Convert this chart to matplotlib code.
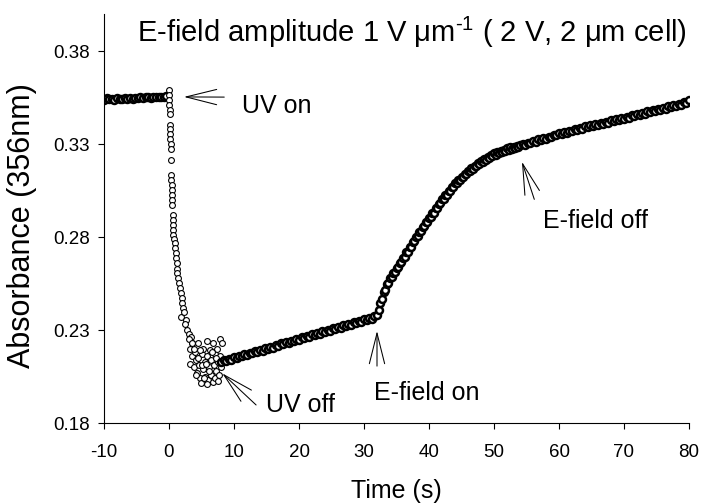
import numpy as np
import matplotlib
matplotlib.use("Agg")
import matplotlib.pyplot as plt

plt.rcParams['font.family'] = ['Liberation Sans', 'DejaVu Sans']
plt.rcParams['mathtext.fontset'] = 'custom'
plt.rcParams['mathtext.rm'] = 'Liberation Sans'
plt.rcParams['mathtext.it'] = 'Liberation Sans:italic'
plt.rcParams['axes.unicode_minus'] = False

# absorbance before UV, t = -10 .. -0.4 s
abs_pre = [0.3540, 0.3546, 0.3542, 0.3545, 0.3539, 0.3547, 0.3544, 0.3541, 0.3548, 0.3545,
           0.3549, 0.3543, 0.3550, 0.3546, 0.3552, 0.3548, 0.3551, 0.3555, 0.3549, 0.3553,
           0.3556, 0.3551, 0.3555, 0.3553, 0.3557]

# UV on: fast drop and scattered minimum (read point by point)
t_drop = [0.0, 0.0, 0.05, 0.05, 0.1, 0.1, 0.15, 0.15, 0.2, 0.2, 0.25, 0.25, 0.3,
          0.35, 0.35, 0.4, 0.4, 0.45, 0.45, 0.5, 0.55, 0.55, 0.6, 0.6, 0.65,
          0.75, 0.85, 0.9, 1.0, 1.05, 1.2, 1.2, 1.3, 1.45, 1.6, 1.7, 1.85, 2.0, 2.0,
          2.2, 1.9, 2.3, 2.6, 2.5, 2.8, 3.0, 3.4, 3.5,
          3.0, 3.3, 3.6, 3.2, 3.8, 4.0, 4.2, 4.3, 4.5, 4.6, 4.8, 4.9, 5.0, 5.2, 5.3,
          5.5, 5.6, 5.8, 5.9, 6.0, 6.1, 6.3, 6.4, 6.5, 6.7, 6.8, 6.9, 7.0, 7.1, 7.3,
          7.4, 7.5, 7.6, 7.7, 7.8, 7.9, 8.0, 8.1,
          3.6, 4.1, 4.4, 5.1, 5.4, 5.7, 6.2, 6.6, 7.2, 3.9, 4.7, 5.9]
abs_drop = [0.3590, 0.3563, 0.3537, 0.3510, 0.3483, 0.3462, 0.3402, 0.3380, 0.3355, 0.3330,
            0.3300, 0.3272, 0.3214, 0.3133, 0.3108, 0.3082, 0.3055, 0.3028, 0.3000, 0.2975,
            0.2920, 0.2893, 0.2866, 0.2840, 0.2812,
            0.2790, 0.2768, 0.2740, 0.2714, 0.2690, 0.2660, 0.2630, 0.2606, 0.2580, 0.2553,
            0.2525, 0.2499, 0.2470, 0.2445, 0.2420, 0.2370, 0.2395, 0.2354, 0.2330, 0.2300,
            0.2280, 0.2262, 0.2230,
            0.2250, 0.2200, 0.2160, 0.2120, 0.2100, 0.2180, 0.2140, 0.2070, 0.2230, 0.2110,
            0.2040, 0.2015, 0.2170, 0.2090, 0.2200, 0.2130, 0.2050, 0.2240, 0.2160, 0.2030,
            0.2100, 0.2190, 0.2060, 0.2140, 0.2020, 0.2230, 0.2110, 0.2170, 0.2040, 0.2080,
            0.2200, 0.2130, 0.2025, 0.2060, 0.2250, 0.2160, 0.2100, 0.2230,
            0.2230, 0.2060, 0.2150, 0.2110, 0.2040, 0.2120, 0.2080, 0.2180, 0.2150, 0.2200,
            0.2190, 0.2010]

# slow recovery, t = 8 .. 31.6 s
abs_slow = [0.2128, 0.2137, 0.2133, 0.2145, 0.2141, 0.2153, 0.2149, 0.2160, 0.2158, 0.2171,
            0.2166, 0.2178, 0.2174, 0.2186, 0.2181, 0.2194, 0.2189, 0.2203, 0.2198, 0.2211,
            0.2206, 0.2220, 0.2215, 0.2228, 0.2223, 0.2236, 0.2231, 0.2243, 0.2239, 0.2252,
            0.2247, 0.2261, 0.2255, 0.2268, 0.2264, 0.2277, 0.2271, 0.2285, 0.2280, 0.2293,
            0.2287, 0.2301, 0.2296, 0.2310, 0.2304, 0.2318, 0.2312, 0.2325, 0.2320, 0.2334,
            0.2329, 0.2342, 0.2336, 0.2350, 0.2345, 0.2358, 0.2353, 0.2366, 0.2362, 0.2374]

# E-field on, t = 32 .. 54 s
abs_field = [0.2383, 0.2406, 0.2445, 0.2466, 0.2504, 0.2516, 0.2545, 0.2553, 0.2580, 0.2585,
             0.2608, 0.2611, 0.2635, 0.2639, 0.2663, 0.2667, 0.2690, 0.2694, 0.2718, 0.2721,
             0.2745, 0.2749, 0.2773, 0.2777, 0.2800, 0.2804, 0.2828, 0.2831, 0.2855, 0.2857,
             0.2880, 0.2882, 0.2905, 0.2907, 0.2930, 0.2932, 0.2955, 0.2957, 0.2980, 0.2982,
             0.3005, 0.3006, 0.3028, 0.3029, 0.3050, 0.3050, 0.3070, 0.3070, 0.3090, 0.3089,
             0.3108, 0.3106, 0.3125, 0.3123, 0.3140, 0.3138, 0.3155, 0.3153, 0.3170, 0.3168,
             0.3185, 0.3181, 0.3198, 0.3194, 0.3210, 0.3206, 0.3222, 0.3217, 0.3233, 0.3227,
             0.3242, 0.3236, 0.3250, 0.3244, 0.3258, 0.3251, 0.3265, 0.3258, 0.3271, 0.3264,
             0.3277, 0.3270, 0.3282, 0.3275, 0.3287, 0.3280, 0.3292, 0.3285, 0.3296]

# E-field off, t = 54.4 .. 80 s
abs_relax = [0.3299, 0.3296, 0.3308, 0.3305, 0.3316, 0.3313, 0.3325, 0.3322, 0.3333, 0.3330,
             0.3341, 0.3338, 0.3350, 0.3347, 0.3358, 0.3355, 0.3366, 0.3362, 0.3373, 0.3369,
             0.3380, 0.3376, 0.3388, 0.3383, 0.3395, 0.3391, 0.3402, 0.3398, 0.3409, 0.3404,
             0.3415, 0.3410, 0.3418, 0.3416, 0.3428, 0.3423, 0.3433, 0.3430, 0.3441, 0.3436,
             0.3448, 0.3443, 0.3455, 0.3450, 0.3462, 0.3458, 0.3469, 0.3464, 0.3476, 0.3471,
             0.3483, 0.3479, 0.3491, 0.3486, 0.3494, 0.3491, 0.3504, 0.3499, 0.3508, 0.3503,
             0.3515, 0.3510, 0.3525, 0.3520, 0.3540]

t_pre = np.linspace(-10, -0.4, len(abs_pre))
t_slow = np.linspace(8.0, 31.6, len(abs_slow))
t_field = np.linspace(32.0, 54.0, len(abs_field))
t_relax = np.linspace(54.4, 80.0, len(abs_relax))

fig = plt.figure(figsize=(7.02, 5.04), dpi=100)
ax = fig.add_axes([104 / 702, 81 / 504, 585 / 702, 409 / 504])

# dense runs: overlapping open circles merge into a dark band
dense = dict(ls='none', marker='o', ms=5.0, mfc='white', mec='black', mew=1.8)
sparse = dict(ls='none', marker='o', ms=4.2, mfc='white', mec='black', mew=0.8)
ax.plot(t_pre, abs_pre, **dense)
ax.plot(t_drop, abs_drop, **sparse)
ax.plot(t_slow, abs_slow, **dense)
ax.plot(t_field, abs_field, **dense)
ax.plot(t_relax, abs_relax, **dense)

ax.set_xlim(-10, 80)
ax.set_ylim(0.18, 0.40)
ax.set_xticks(range(-10, 81, 10))
ax.set_yticks([0.18, 0.23, 0.28, 0.33, 0.38])
ax.set_yticklabels(['0.18', '0.23', '0.28', '0.33', '0.38'])
ax.spines['top'].set_visible(False)
ax.spines['right'].set_visible(False)
for s in ['left', 'bottom']:
    ax.spines[s].set_linewidth(0.8)
ax.tick_params(direction='out', length=4.3, width=0.8, labelsize=13.5)
ax.tick_params(axis='x', pad=10.5)
ax.tick_params(axis='y', pad=6)

ax.set_xlabel('Time (s)', fontsize=18, labelpad=13)
fig.text(22 / 702, 1 - 226 / 504, 'Absorbance (356nm)', rotation=90,
         ha='center', va='center', fontsize=22)

ax.text(0.527, 0.9315, r'E-field amplitude 1 V μm$^{\text{-1}}$ ( 2 V, 2 μm cell)',
        transform=ax.transAxes, ha='center', va='baseline', fontsize=21)

arrow = dict(arrowstyle='->, head_length=2.2, head_width=0.55', lw=0.75,
             color='black', mutation_scale=10, shrinkA=0, shrinkB=0)
ax.annotate('', xy=(2.3, 0.3554), xytext=(8.5, 0.3553), arrowprops=arrow)
ax.text(11.3, 0.3467, 'UV on', fontsize=18, va='baseline')

ax.annotate('', xy=(8.2, 0.2067), xytext=(13.4, 0.1897), arrowprops=arrow)
ax.text(15.0, 0.1859, 'UV off', fontsize=18, va='baseline')

ax.annotate('', xy=(32.0, 0.2295), xytext=(32.0, 0.2106), arrowprops=arrow)
ax.text(31.6, 0.1924, 'E-field on', fontsize=18, va='baseline')

ax.annotate('', xy=(54.3, 0.3205), xytext=(56.2, 0.3003), arrowprops=arrow)
ax.text(57.5, 0.2848, 'E-field off', fontsize=18, va='baseline')

fig.savefig('out.png', dpi=100)
